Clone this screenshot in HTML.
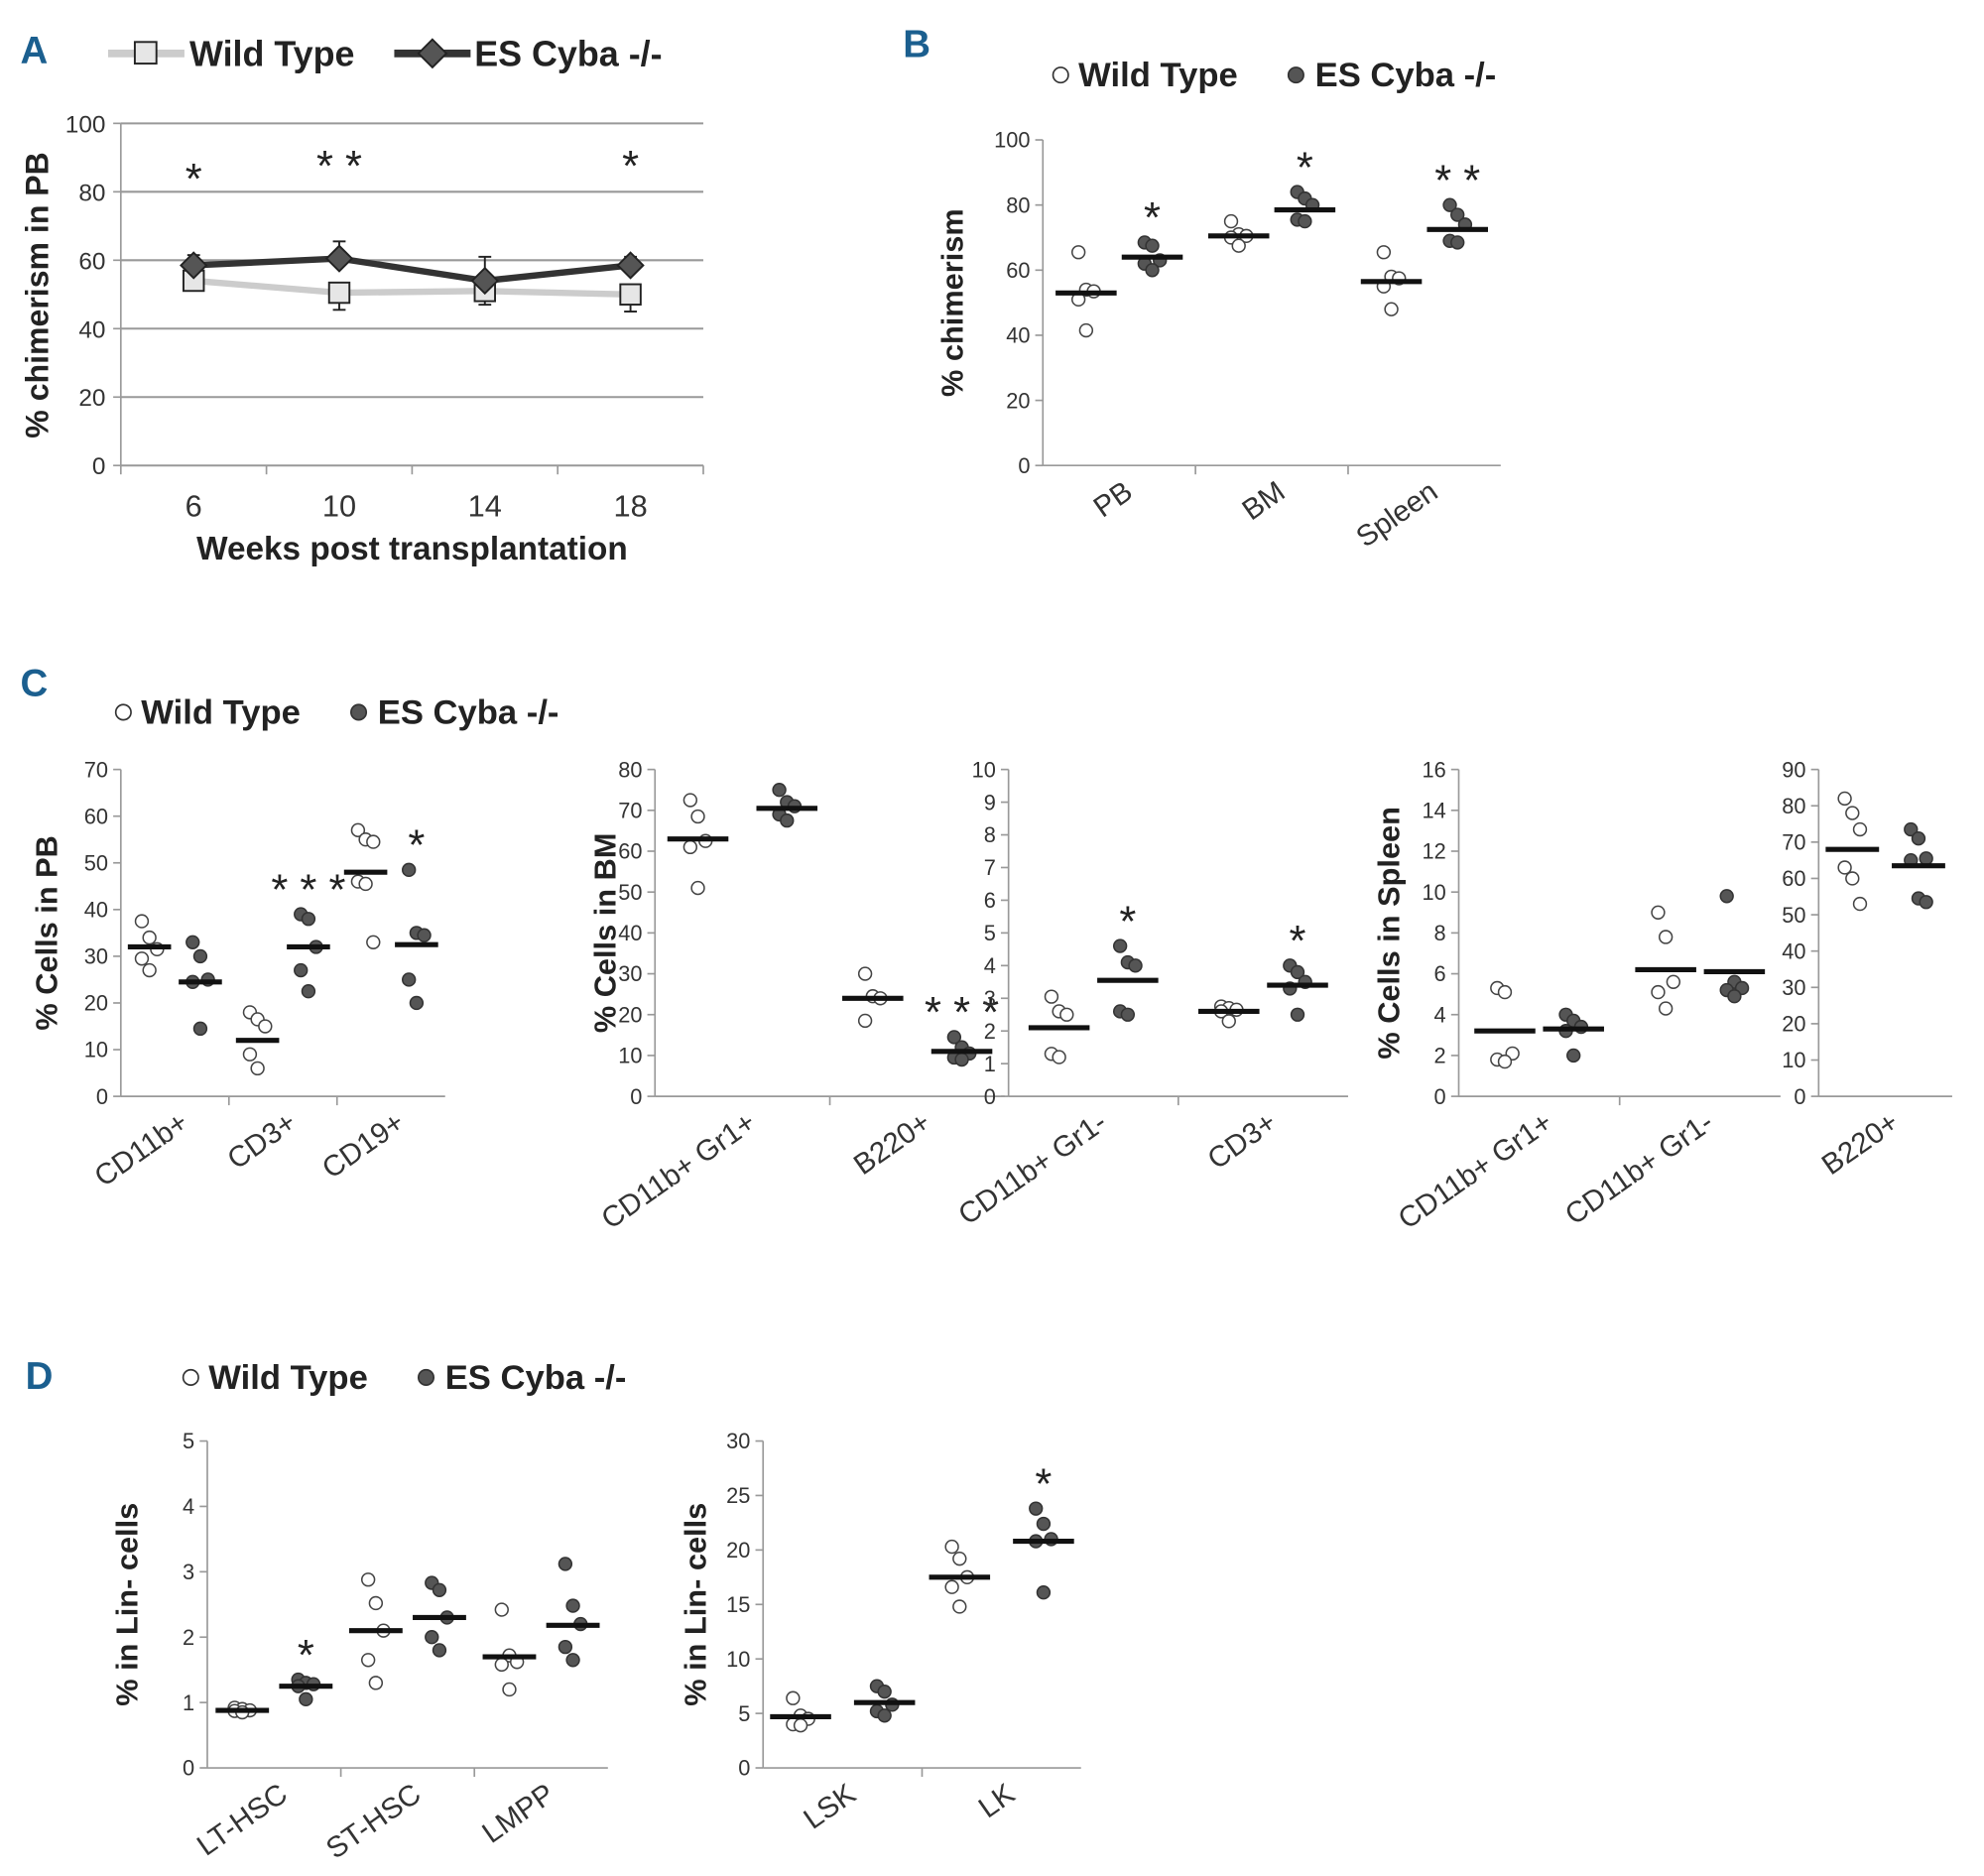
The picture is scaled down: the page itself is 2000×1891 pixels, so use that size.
<!DOCTYPE html>
<html><head><meta charset="utf-8"><style>
html,body{margin:0;padding:0;background:#fff}
svg{display:block}
text{font-family:"Liberation Sans",sans-serif}
.t{font-family:"Liberation Sans Narrow","Liberation Sans",sans-serif;font-weight:bold}
</style></head><body>
<svg id="fig" width="2000" height="1891" viewBox="0 0 1560 1475" xmlns="http://www.w3.org/2000/svg"></svg>
<script>
// ---------- Panel A data ----------
const aWeeks = ["6","10","14","18"];
const aWT = [54, 50.5, 51, 50];
const aWTerr = [2, 5, 4, 5];
const aKO = [58.5, 60.5, 54, 58.5];
const aKOerr = [3, 5, 7, 2.5];
const aStars = ["*","**","","*"];
const aYTicks = [0,20,40,60,80,100];
// ---------- Panel B ----------
const bCats = ["PB","BM","Spleen"];
const bWTpts = [[65.5,54,53.5,51,41.5],[75,71,70.5,70,67.5],[65.5,58,57.5,55,48]];
const bKOpts = [[68.5,67.5,63,62,60],[84,82,80,75.5,75],[80,77,74,69,68.5]];
const bWTmean = [53,70.5,56.5];
const bKOmean = [64,78.5,72.5];
const bStars = ["*","*","**"];
const bYTicks = [0,20,40,60,80,100];
// ---------- Panel C ----------
const c1Cats = ["CD11b+","CD3+","CD19+"];
const c1WTpts = [[37.5,34,31.5,29.5,27],[18,16.5,15,9,6],[57,55,54.5,46,45.5,33]];
const c1KOpts = [[33,30,25,24.5,14.5],[39,38,32,27,22.5],[48.5,35,34.5,25,20]];
const c1WTmean = [32,12,48];
const c1KOmean = [24.5,32,32.5];
const c1Stars = ["","***","*"];
const c1YTicks = [0,10,20,30,40,50,60,70];
const c2Cats = ["CD11b+ Gr1+","B220+"];
const c2WTpts = [[72.5,68.5,62.5,61,51],[30,24.5,24,18.5]];
const c2KOpts = [[75,72,71,69,67.5],[14.5,12,10.5,9.5,9]];
const c2WTmean = [63,24];
const c2KOmean = [70.5,11];
const c2Stars = ["","***"];
const c2YTicks = [0,10,20,30,40,50,60,70,80];
const c3Cats = ["CD11b+ Gr1-","CD3+"];
const c3WTpts = [[3.05,2.6,2.5,1.3,1.2],[2.75,2.7,2.65,2.6,2.3]];
const c3KOpts = [[4.6,4.1,4.0,2.6,2.5],[4.0,3.8,3.5,3.3,2.5]];
const c3WTmean = [2.1,2.6];
const c3KOmean = [3.55,3.4];
const c3Stars = ["*","*"];
const c3YTicks = [0,1,2,3,4,5,6,7,8,9,10];
const c4Cats = ["CD11b+ Gr1+","CD11b+ Gr1-"];
const c4WTpts = [[5.3,5.1,2.1,1.8,1.7],[9.0,7.8,5.6,5.1,4.3]];
const c4KOpts = [[4.0,3.7,3.4,3.2,2.0],[9.8,5.6,5.3,5.2,4.9]];
const c4WTmean = [3.2,6.2];
const c4KOmean = [3.3,6.1];
const c4Stars = ["",""];
const c4YTicks = [0,2,4,6,8,10,12,14,16];
const c5Cats = ["B220+"];
const c5WTpts = [[82,78,73.5,63,60,53]];
const c5KOpts = [[73.5,71,65.5,65,54.5,53.5]];
const c5WTmean = [68];
const c5KOmean = [63.5];
const c5Stars = [""];
const c5YTicks = [0,10,20,30,40,50,60,70,80,90];
// ---------- Panel D ----------
const d1Cats = ["LT-HSC","ST-HSC","LMPP"];
const d1WTpts = [[0.92,0.9,0.88,0.87,0.85],[2.88,2.52,2.1,1.65,1.3],[2.42,1.72,1.62,1.58,1.2]];
const d1KOpts = [[1.35,1.3,1.28,1.25,1.05],[2.83,2.72,2.3,2.0,1.8],[3.12,2.48,2.2,1.85,1.65]];
const d1WTmean = [0.88,2.1,1.7];
const d1KOmean = [1.25,2.3,2.18];
const d1Stars = ["*","",""];
const d1YTicks = [0,1,2,3,4,5];
const d2Cats = ["LSK","LK"];
const d2WTpts = [[6.4,4.8,4.5,4.0,3.9],[20.3,19.2,17.5,16.6,14.8]];
const d2KOpts = [[7.5,7.0,5.8,5.2,4.8],[23.8,22.4,21.0,20.8,16.1]];
const d2WTmean = [4.7,17.5];
const d2KOmean = [6.0,20.8];
const d2Stars = ["","*"];
const d2YTicks = [0,5,10,15,20,25,30];

const svg = document.getElementById('fig');
const NS = "http://www.w3.org/2000/svg";
function mk(tag, attrs, parent){const e=document.createElementNS(NS,tag);for(const k in attrs)e.setAttribute(k,attrs[k]);(parent||svg).appendChild(e);return e;}
function txt(s, attrs, parent){const e=mk('text',attrs,parent);e.textContent=s;return e;}

function letter(s,x,y){const t=txt(s,{x:x,y:y,'font-size':30,fill:'#1b5f8f',class:'t'});

}
letter('A',16,50);letter('B',710,45);letter('C',16,547);letter('D',20,1092);

function dotLegend(x,y,fs){
  const g=mk('g',{});
  
  
  mk('circle',{cx:x,cy:y-9,r:6,fill:'#fff',stroke:'#333','stroke-width':1.3},g);
  txt('Wild Type',{x:x+14,y:y,'font-size':fs,class:'t',fill:'#222'},g);
  mk('circle',{cx:x+185,cy:y-9,r:6,fill:'#555',stroke:'#333','stroke-width':1.3},g);
  txt('ES Cyba -/-',{x:x+200,y:y,'font-size':fs,class:'t',fill:'#222'},g);
}
dotLegend(834,68,27);dotLegend(97,569,27);dotLegend(150,1092,27);

(function(){
  const g=mk('g',{});
  
  
  mk('line',{x1:85,y1:42,x2:145,y2:42,stroke:'#ccc','stroke-width':6},g);
  mk('rect',{x:106,y:33,width:17,height:17,fill:'#e6e6e6',stroke:'#222','stroke-width':1.5},g);
  txt('Wild Type',{x:149,y:52,'font-size':28,class:'t',fill:'#222'},g);
  mk('line',{x1:310,y1:42,x2:370,y2:42,stroke:'#333','stroke-width':6},g);
  mk('polygon',{points:'340,31 351,42 340,53 329,42',fill:'#555',stroke:'#222','stroke-width':1.5},g);
  txt('ES Cyba -/-',{x:373,y:52,'font-size':28,class:'t',fill:'#222'},g);
})();

(function(){
  const x0=95,x1=553,y0=366,y1=97;
  const ys=v=>y0-(v/100)*(y0-y1);
  const step=(x1-x0)/aWeeks.length;
  const xs=i=>x0+step*(i+0.5);
  const g=mk('g',{});
  
  
  aYTicks.forEach(t=>{
    const y=ys(t);
    if(t>0)mk('line',{x1:x0,y1:y,x2:x1,y2:y,stroke:'#999','stroke-width':1.6},g);
    mk('line',{x1:x0-6,y1:y,x2:x0,y2:y,stroke:'#999','stroke-width':1.3},g);
    txt(String(t),{x:x0-12,y:y+7,'font-size':19,'text-anchor':'end',fill:'#333'},g);
  });
  mk('line',{x1:x0,y1:y1,x2:x0,y2:y0,stroke:'#999','stroke-width':1.3},g);
  mk('line',{x1:x0,y1:y0,x2:x1,y2:y0,stroke:'#999','stroke-width':1.6},g);
  for(let i=0;i<=aWeeks.length;i++)mk('line',{x1:x0+step*i,y1:y0,x2:x0+step*i,y2:y0+7,stroke:'#999','stroke-width':1.3},g);
  aWeeks.forEach((w,i)=>txt(w,{x:xs(i),y:406,'font-size':24,'text-anchor':'middle',fill:'#333'},g));
  txt('Weeks post transplantation',{x:324,y:440,'font-size':26,'text-anchor':'middle',class:'t',fill:'#222'},g);
  txt('% chimerism in PB',{x:0,y:0,'font-size':25,'text-anchor':'middle',class:'t',fill:'#222',transform:'translate(38,232) rotate(-90)'},g);
  aWT.forEach((v,i)=>{mk('line',{x1:xs(i),y1:ys(v),x2:xs(i),y2:ys(v-aWTerr[i]),stroke:'#222','stroke-width':1.5},g);
    mk('line',{x1:xs(i)-5,y1:ys(v-aWTerr[i]),x2:xs(i)+5,y2:ys(v-aWTerr[i]),stroke:'#222','stroke-width':1.5},g);});
  aKO.forEach((v,i)=>{mk('line',{x1:xs(i),y1:ys(v),x2:xs(i),y2:ys(v+aKOerr[i]),stroke:'#222','stroke-width':1.5},g);
    mk('line',{x1:xs(i)-5,y1:ys(v+aKOerr[i]),x2:xs(i)+5,y2:ys(v+aKOerr[i]),stroke:'#222','stroke-width':1.5},g);});
  mk('polyline',{points:aWT.map((v,i)=>xs(i)+','+ys(v)).join(' '),fill:'none',stroke:'#ccc','stroke-width':5},g);
  mk('polyline',{points:aKO.map((v,i)=>xs(i)+','+ys(v)).join(' '),fill:'none',stroke:'#333','stroke-width':5},g);
  aWT.forEach((v,i)=>{const r=mk('rect',{x:xs(i)-8,y:ys(v)-8,width:16,height:16,fill:'#e6e6e6',stroke:'#222','stroke-width':1.5},g);
    
    });
  aKO.forEach((v,i)=>{const p=mk('polygon',{points:`${xs(i)},${ys(v)-10} ${xs(i)+10},${ys(v)} ${xs(i)},${ys(v)+10} ${xs(i)-10},${ys(v)}`,fill:'#555',stroke:'#222','stroke-width':1.5},g);
    
    });
  aStars.forEach((s,i)=>{if(s)txt(s.split('').join(' '),{x:xs(i),y:i==0?152:142,'font-size':34,'text-anchor':'middle',fill:'#222'},g);});
})();

function strip(cfg){
  const {name,x0,x1,y0,y1,max,ticks,cats,wt,ko,wtm,kom,stars,ylabel,ylx,offs,fs,labSize}=cfg;
  const g=mk('g',{});
  
  
  const ys=v=>y0-(v/max)*(y0-y1);
  const step=(x1-x0)/cats.length;
  const xs=i=>x0+step*(i+0.5);
  const off=offs||step*0.2;
  mk('line',{x1:x0,y1:y1,x2:x0,y2:y0,stroke:'#999','stroke-width':1.3},g);
  mk('line',{x1:x0,y1:y0,x2:x1,y2:y0,stroke:'#999','stroke-width':1.3},g);
  ticks.forEach(t=>{const y=ys(t);
    mk('line',{x1:x0-6,y1:y,x2:x0,y2:y,stroke:'#999','stroke-width':1.3},g);
    txt(String(t),{x:x0-10,y:y+6,'font-size':fs||17,'text-anchor':'end',fill:'#333'},g);});
  for(let i=1;i<cats.length;i++)mk('line',{x1:x0+step*i,y1:y0,x2:x0+step*i,y2:y0+7,stroke:'#999','stroke-width':1.3},g);
  cats.forEach((c,i)=>{const cx=xs(i)+12,cy=y0+24;
    txt(c,{x:cx,y:cy,'font-size':labSize||23,'text-anchor':'end',fill:'#333',transform:`rotate(-35 ${cx} ${cy})`},g);});
  if(ylabel)txt(ylabel,{x:0,y:0,'font-size':24,'text-anchor':'middle',class:'t',fill:'#222',transform:`translate(${ylx},${(y0+y1)/2}) rotate(-90)`},g);
  const bw=Math.min(step*0.2,24);
  cats.forEach((c,i)=>{
    const xw=xs(i)-off,xk=xs(i)+off;
    wt[i].forEach((v,j)=>{const dx=((j%3)-1)*6;
      const e=mk('circle',{cx:xw+dx,cy:ys(v),r:5,fill:'#fff',stroke:'#444','stroke-width':1.2},g);
      
      });
    ko[i].forEach((v,j)=>{const dx=((j%3)-1)*6;
      const e=mk('circle',{cx:xk+dx,cy:ys(v),r:5,fill:'#555',stroke:'#333','stroke-width':1.2},g);
      
      });
    const m1=mk('line',{x1:xw-bw,y1:ys(wtm[i]),x2:xw+bw,y2:ys(wtm[i]),stroke:'#111','stroke-width':4},g);
    
    
    const m2=mk('line',{x1:xk-bw,y1:ys(kom[i]),x2:xk+bw,y2:ys(kom[i]),stroke:'#111','stroke-width':4},g);
    
    
    if(stars[i]){const top=Math.max(...ko[i]);
      txt(stars[i].split('').join(' '),{x:xk,y:ys(top)-8,'font-size':34,'text-anchor':'middle',fill:'#222'},g);}
  });
}
strip({name:'chart-b',x0:820,x1:1180,y0:366,y1:110,max:100,ticks:bYTicks,cats:bCats,wt:bWTpts,ko:bKOpts,wtm:bWTmean,kom:bKOmean,stars:bStars,ylabel:'% chimerism',ylx:757,offs:26,labSize:23});
strip({name:'chart-c-pb',x0:95,x1:350,y0:862,y1:605,max:70,ticks:c1YTicks,cats:c1Cats,wt:c1WTpts,ko:c1KOpts,wtm:c1WTmean,kom:c1KOmean,stars:c1Stars,ylabel:'% Cells in PB',ylx:45,offs:20});
strip({name:'chart-c-bm1',x0:515,x1:790,y0:862,y1:605,max:80,ticks:c2YTicks,cats:c2Cats,wt:c2WTpts,ko:c2KOpts,wtm:c2WTmean,kom:c2KOmean,stars:c2Stars,ylabel:'% Cells in BM',ylx:484,offs:35});
strip({name:'chart-c-bm2',x0:793,x1:1060,y0:862,y1:605,max:10,ticks:c3YTicks,cats:c3Cats,wt:c3WTpts,ko:c3KOpts,wtm:c3WTmean,kom:c3KOmean,stars:c3Stars,offs:27});
strip({name:'chart-c-spleen1',x0:1147,x1:1400,y0:862,y1:605,max:16,ticks:c4YTicks,cats:c4Cats,wt:c4WTpts,ko:c4KOpts,wtm:c4WTmean,kom:c4KOmean,stars:c4Stars,ylabel:'% Cells in Spleen',ylx:1100,offs:27});
strip({name:'chart-c-spleen2',x0:1430,x1:1535,y0:862,y1:605,max:90,ticks:c5YTicks,cats:c5Cats,wt:c5WTpts,ko:c5KOpts,wtm:c5WTmean,kom:c5KOmean,stars:c5Stars,offs:26});
strip({name:'chart-d1',x0:163,x1:478,y0:1390,y1:1133,max:5,ticks:d1YTicks,cats:d1Cats,wt:d1WTpts,ko:d1KOpts,wtm:d1WTmean,kom:d1KOmean,stars:d1Stars,ylabel:'% in Lin- cells',ylx:108,offs:25});
strip({name:'chart-d2',x0:600,x1:850,y0:1390,y1:1133,max:30,ticks:d2YTicks,cats:d2Cats,wt:d2WTpts,ko:d2KOpts,wtm:d2WTmean,kom:d2KOmean,stars:d2Stars,ylabel:'% in Lin- cells',ylx:555,offs:33});
</script>
</body></html>
